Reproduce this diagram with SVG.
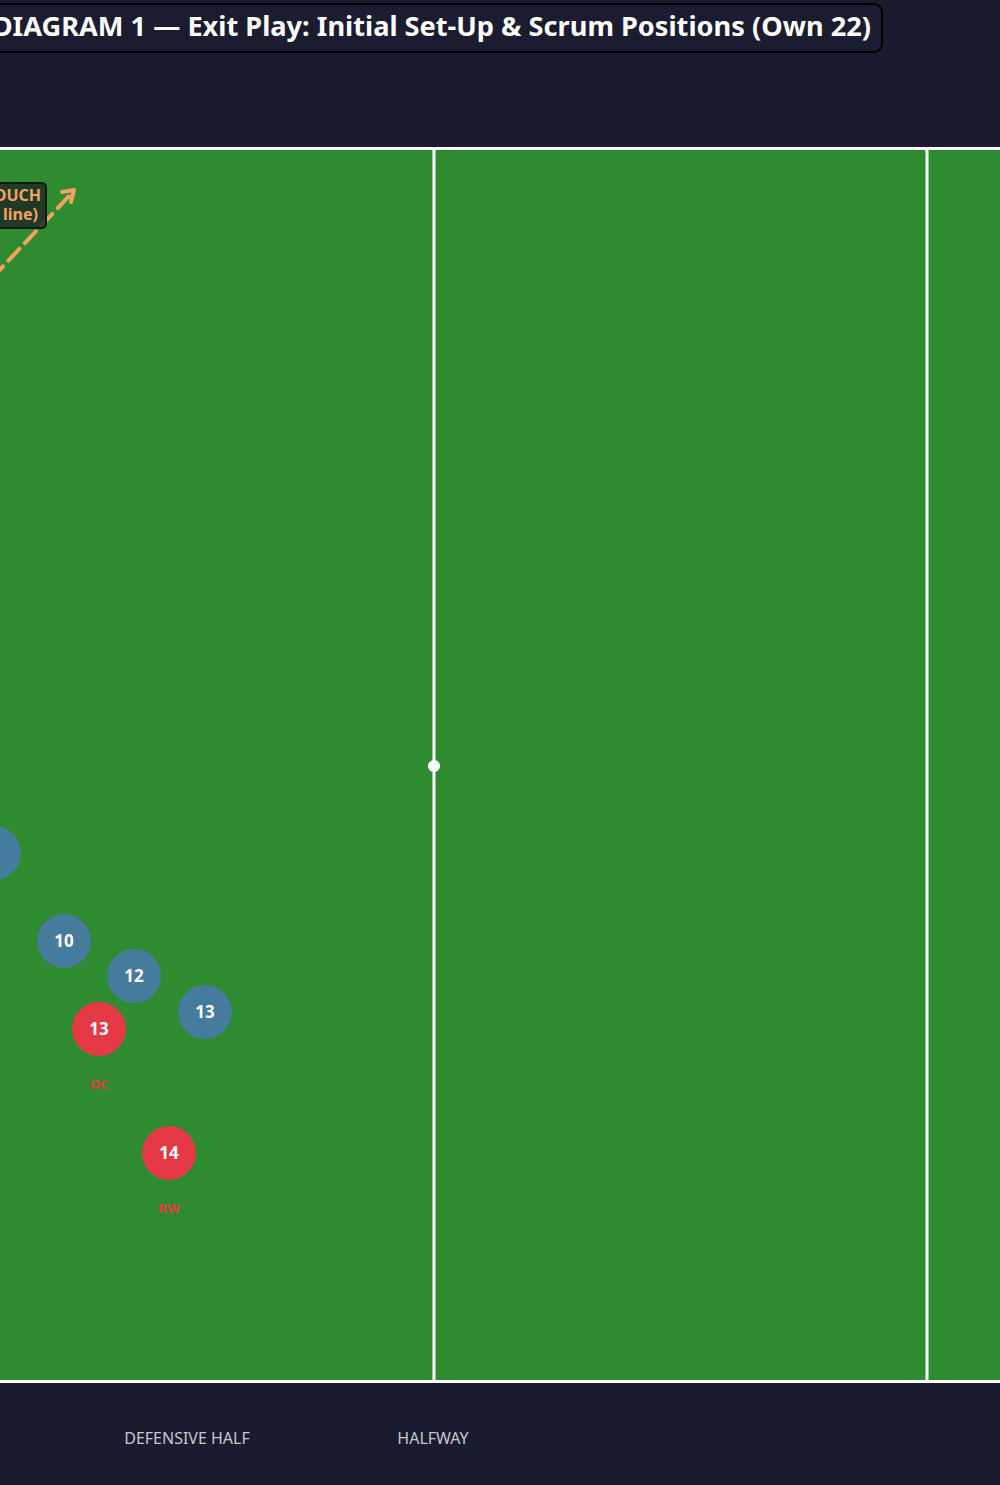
<svg xmlns="http://www.w3.org/2000/svg" width="1000" height="1485" viewBox="0 0 1000 1485">
<defs>
<style>
.num{font-family:"Noto Sans","DejaVu Sans",sans-serif;font-weight:bold;font-size:17px;fill:#ffffff;text-anchor:middle}
.pos{font-family:"Noto Sans","DejaVu Sans",sans-serif;font-weight:bold;font-size:13px;fill:#e63946;text-anchor:middle}
.blue{fill:#457b9d}
.red{fill:#e63946}
.fl{stroke:#ffffff;stroke-width:3;fill:none}
.zone{font-family:"Noto Sans","DejaVu Sans",sans-serif;font-size:16px;fill:#c8c8d0;text-anchor:middle}
</style>
</defs>
<rect x="0" y="0" width="1000" height="1485" fill="#1a1b2e"/>
<g id="title">
<rect x="-20" y="4" width="902" height="48" rx="8" fill="#1c1c30" stroke="#000000" stroke-width="2"/>
<text x="871" y="36" font-family="'Noto Sans','DejaVu Sans',sans-serif" font-weight="bold" font-size="27.2" fill="#ffffff" text-anchor="end">DIAGRAM 1 — Exit Play: Initial Set-Up &amp; Scrum Positions (Own 22)</text>
</g>
<g id="pitch">
<rect x="0" y="149" width="1000" height="1232" fill="#2e8b30"/>
<line class="fl" x1="0" y1="148.5" x2="1000" y2="148.5"/>
<line class="fl" x1="0" y1="1381.5" x2="1000" y2="1381.5"/>
<line class="fl" x1="434" y1="148" x2="434" y2="1382"/>
<line class="fl" x1="927" y1="148" x2="927" y2="1382"/>
<circle cx="434" cy="766" r="6" fill="#ffffff"/>
</g>
<g id="connectors">
<line x1="-8" y1="278" x2="70" y2="195" stroke="#f4a261" stroke-width="4" stroke-dasharray="16 8" stroke-linecap="round"/>
<polyline points="62,192 74,190 71,202" fill="none" stroke="#f4a261" stroke-width="4" stroke-linecap="round" stroke-linejoin="round"/>
</g>
<g id="touch-label">
<rect x="-20" y="183" width="66" height="45" rx="4" fill="#1e2a26" fill-opacity="0.85" stroke="#0d1a10" stroke-width="2"/>
<text x="41" y="201" font-family="'Noto Sans','DejaVu Sans',sans-serif" font-weight="bold" font-size="16" fill="#f4a261" text-anchor="end">OUCH</text>
<text x="38" y="220" font-family="'Noto Sans','DejaVu Sans',sans-serif" font-weight="bold" font-size="16" fill="#f4a261" text-anchor="end">line)</text>
</g>
<g id="b-partial"><circle class="blue" cx="-6" cy="853" r="27"/></g>
<g id="b10"><circle class="blue" cx="64" cy="941" r="27"/><text class="num" x="64" y="947">10</text></g>
<g id="b12"><circle class="blue" cx="134" cy="976" r="27"/><text class="num" x="134" y="982">12</text></g>
<g id="b13"><circle class="blue" cx="205" cy="1012" r="27"/><text class="num" x="205" y="1018">13</text></g>
<g id="r13"><circle class="red" cx="99" cy="1029" r="27"/><text class="num" x="99" y="1035">13</text><text class="pos" x="99" y="1089">OC</text></g>
<g id="r14"><circle class="red" cx="169" cy="1153" r="27"/><text class="num" x="169" y="1159">14</text><text class="pos" x="169" y="1213">RW</text></g>
<g id="zones">
<text class="zone" x="187" y="1444">DEFENSIVE HALF</text>
<text class="zone" x="433" y="1444">HALFWAY</text>
</g>
</svg>
